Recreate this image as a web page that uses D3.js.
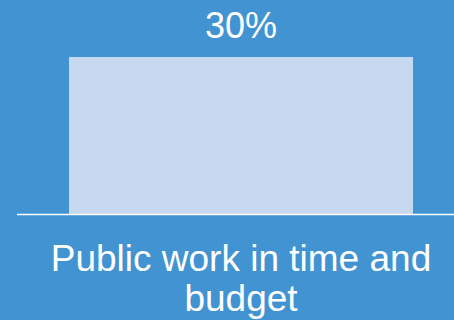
<!DOCTYPE html>
<html>
<head>
<meta charset="utf-8">
<script src="https://cdn.jsdelivr.net/npm/d3@7"></script>
<style>
  html, body { margin: 0; padding: 0; background: #4293D2; }
  svg { display: block; }
</style>
</head>
<body>
<svg id="chart" width="454" height="320"></svg>
<script>
// Chart data
const categories = ["Public work in time and budget"];
const values = [30];
const labelLines = [["Public work in time and", "budget"]];

const width = 454, height = 320;
const bg = "#4293D2", barColor = "#C6D9F0";

const svg = d3.select("#chart");
svg.append("rect").attr("width", width).attr("height", height).attr("fill", bg);

const x = d3.scaleBand().domain(categories).range([69, 413]).padding(0);
const y = d3.scaleLinear().domain([0, 30]).range([214, 57]);

// Bars
svg.selectAll("rect.bar")
  .data(categories)
  .join("rect")
  .attr("class", "bar")
  .attr("x", d => x(d))
  .attr("y", (d, i) => y(values[i]))
  .attr("width", x.bandwidth())
  .attr("height", (d, i) => y(0) - y(values[i]))
  .attr("fill", barColor);

// Baseline
svg.append("line")
  .attr("x1", 17).attr("x2", width)
  .attr("y1", y(0) + 0.5).attr("y2", y(0) + 0.5)
  .attr("stroke", "#ffffff").attr("stroke-width", 1.5);

// Value labels
svg.selectAll("text.value")
  .data(categories)
  .join("text")
  .attr("class", "value")
  .attr("x", d => x(d) + x.bandwidth() / 2)
  .attr("y", (d, i) => y(values[i]) - 19)
  .attr("text-anchor", "middle")
  .attr("font-family", "Liberation Sans, Arial, sans-serif")
  .attr("font-size", 36)
  .attr("fill", "#ffffff")
  .text((d, i) => values[i] + "%");

// Category labels
const cat = svg.selectAll("text.cat")
  .data(categories)
  .join("text")
  .attr("class", "cat")
  .attr("x", d => x(d) + x.bandwidth() / 2)
  .attr("y", y(0) + 57)
  .attr("text-anchor", "middle")
  .attr("font-family", "Liberation Sans, Arial, sans-serif")
  .attr("font-size", 37)
  .attr("fill", "#ffffff");
cat.each(function(d, i) {
  const t = d3.select(this);
  labelLines[i].forEach((line, j) => {
    t.append("tspan")
      .attr("x", x(d) + x.bandwidth() / 2)
      .attr("dy", j === 0 ? 0 : 40)
      .text(line);
  });
});
</script>
</body>
</html>
